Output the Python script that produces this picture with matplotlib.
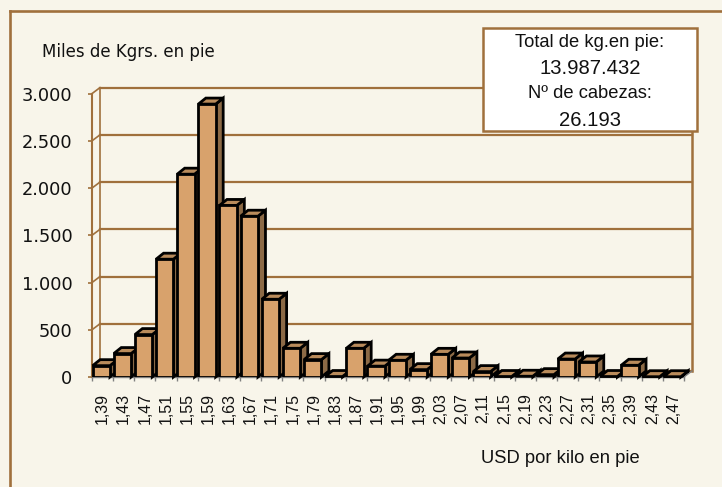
import matplotlib
matplotlib.use("Agg")
import matplotlib.pyplot as plt
from matplotlib.patches import Polygon, Rectangle
from matplotlib.lines import Line2D

# ---- data ----
categories = ["1,39", "1,43", "1,47", "1,51", "1,55", "1,59", "1,63", "1,67", "1,71", "1,75",
              "1,79", "1,83", "1,87", "1,91", "1,95", "1,99", "2,03", "2,07", "2,11", "2,15",
              "2,19", "2,23", "2,27", "2,31", "2,35", "2,39", "2,43", "2,47"]
values = [120, 248, 449, 1247, 2147, 2889, 1816, 1702, 823, 304,
          184, 5, 304, 115, 177, 78, 240, 201, 57, 5,
          8, 25, 190, 159, 5, 124, 3, 3]
yticks = [0, 500, 1000, 1500, 2000, 2500, 3000]
ytick_labels = ["0", "500", "1.000", "1.500", "2.000", "2.500", "3.000"]
y_title = "Miles de Kgrs. en pie"
x_title = "USD por kilo en pie"
box_lines = ["Total de kg.en pie:", "13.987.432", "Nº de cabezas:", "26.193"]

# ---- style ----
W, H = 722, 487
BG = "#F8F5EA"
BROWN = "#A0703C"
FACE = "#D8A26C"
SIDE = "#8C6A46"
TOP = "#B98B5B"
ARIAL = "Liberation Sans"
VERD = "DejaVu Sans"

fig = plt.figure(figsize=(W / 100, H / 100), dpi=100, facecolor=BG)
ax_l, ax_b, ax_w, ax_h = 92, 110, 592, 283.4
ax = fig.add_axes([ax_l / W, ax_b / H, ax_w / W, ax_h / H])
ax.patch.set_visible(False)
n = len(values)
ax.set_xlim(-0.5, n - 0.5)
ax.set_ylim(0, 3000)

px_slot = ax_w / n
px_unit = ax_h / 3000.0
WDX, WDY = 8 / px_slot, 6 / px_unit        # wall depth in data units
BDX, BDY = 7.5 / px_slot, 6 / px_unit      # bar depth in data units

x_left, x_right = -0.5, n - 0.5
# back wall gridlines + left wall
for v in yticks:
    ax.add_line(Line2D([x_left + WDX, x_right + WDX], [v + WDY, v + WDY], color=BROWN, lw=1.6, zorder=1, clip_on=False))
    ax.add_line(Line2D([x_left, x_left + WDX], [v, v + WDY], color=BROWN, lw=1.2, zorder=1, clip_on=False))
ax.add_line(Line2D([x_left, x_left], [0, 3000], color=BROWN, lw=1.5, zorder=1, clip_on=False))
ax.add_line(Line2D([x_left + WDX, x_left + WDX], [WDY, 3000 + WDY], color=BROWN, lw=1.2, zorder=1, clip_on=False))
ax.add_line(Line2D([x_right + WDX, x_right + WDX], [WDY, 3000 + WDY], color=BROWN, lw=1.8, zorder=1, clip_on=False))
ax.add_line(Line2D([x_right, x_right + WDX], [0, WDY], color="#808080", lw=1.0, zorder=1, clip_on=False))

# bars
offset = -0.06
bw = 0.82
LW = 2.0
xs = [i + offset for i in range(n)]
bars = ax.bar(xs, values, width=bw, color=FACE, edgecolor="black", linewidth=LW, zorder=3)
for i, (rect, h) in enumerate(zip(bars.patches, values)):
    z = 3 + i * 0.01
    rect.set_zorder(z)
    rect.set_joinstyle("miter")
    x0 = xs[i] - bw / 2
    x1 = x0 + bw
    side = Polygon([(x1, 0), (x1 + BDX, BDY), (x1 + BDX, h + BDY), (x1, h)], closed=True,
                   facecolor=SIDE, edgecolor="black", lw=LW, zorder=z - 0.001, joinstyle="miter", clip_on=False)
    top = Polygon([(x0, h), (x0 + BDX, h + BDY), (x1 + BDX, h + BDY), (x1, h)], closed=True,
                  facecolor=TOP, edgecolor="black", lw=LW, zorder=z - 0.001, joinstyle="miter", clip_on=False)
    ax.add_patch(side)
    ax.add_patch(top)

# axes / ticks
for s in ["top", "right", "left"]:
    ax.spines[s].set_visible(False)
ax.spines["bottom"].set_color("#808080")
ax.spines["bottom"].set_linewidth(1.0)
ax.spines["bottom"].set_zorder(2)

ax.set_yticks(yticks)
ax.set_yticklabels(ytick_labels, fontfamily=VERD, fontsize=12.8, color="#111111")
ax.tick_params(axis="y", length=3, width=1.2, color=BROWN, pad=11)

ax.set_xticks(range(n))
ax.set_xticklabels(categories, rotation=90, fontfamily=ARIAL, fontsize=11.5, color="#111111")
ax.set_xticks([i - 0.5 for i in range(n + 1)], minor=True)
ax.tick_params(axis="x", which="major", length=0, pad=11.5)
ax.tick_params(axis="x", which="minor", length=3, width=1.0, color="#808080")
for lab in ax.get_xticklabels():
    lab.set_va("top")

# titles
fig.text(41.7 / W, (H - 57.3) / H, y_title, fontfamily=VERD, fontsize=12, color="#111111", va="baseline", ha="left")
fig.text(480.7 / W, (H - 463.3) / H, x_title, fontfamily=ARIAL, fontsize=13.2, color="#111111", va="baseline", ha="left")

# info box
fig.patches.append(Rectangle((483 / W, (H - 131) / H), 214 / W, 103 / H, transform=fig.transFigure,
                             facecolor="white", edgecolor=BROWN, lw=1.8, zorder=5))
box_baselines = [46.7, 74.3, 98, 125.7]
box_sizes = [13.2, 14.6, 13.2, 14.6]
for t, yb, fs in zip(box_lines, box_baselines, box_sizes):
    fig.text(590 / W, (H - yb) / H, t, fontfamily=ARIAL, fontsize=fs, color="#111111",
             ha="center", va="baseline", zorder=6)

# outer frame (top & left)
fig.add_artist(Line2D([10 / W, 10 / W], [0, (H - 11) / H], transform=fig.transFigure, color=BROWN, lw=1.9))
fig.add_artist(Line2D([10 / W, 1], [(H - 11) / H, (H - 11) / H], transform=fig.transFigure, color=BROWN, lw=1.9))

fig.savefig("out.png", dpi=100, facecolor=BG)
